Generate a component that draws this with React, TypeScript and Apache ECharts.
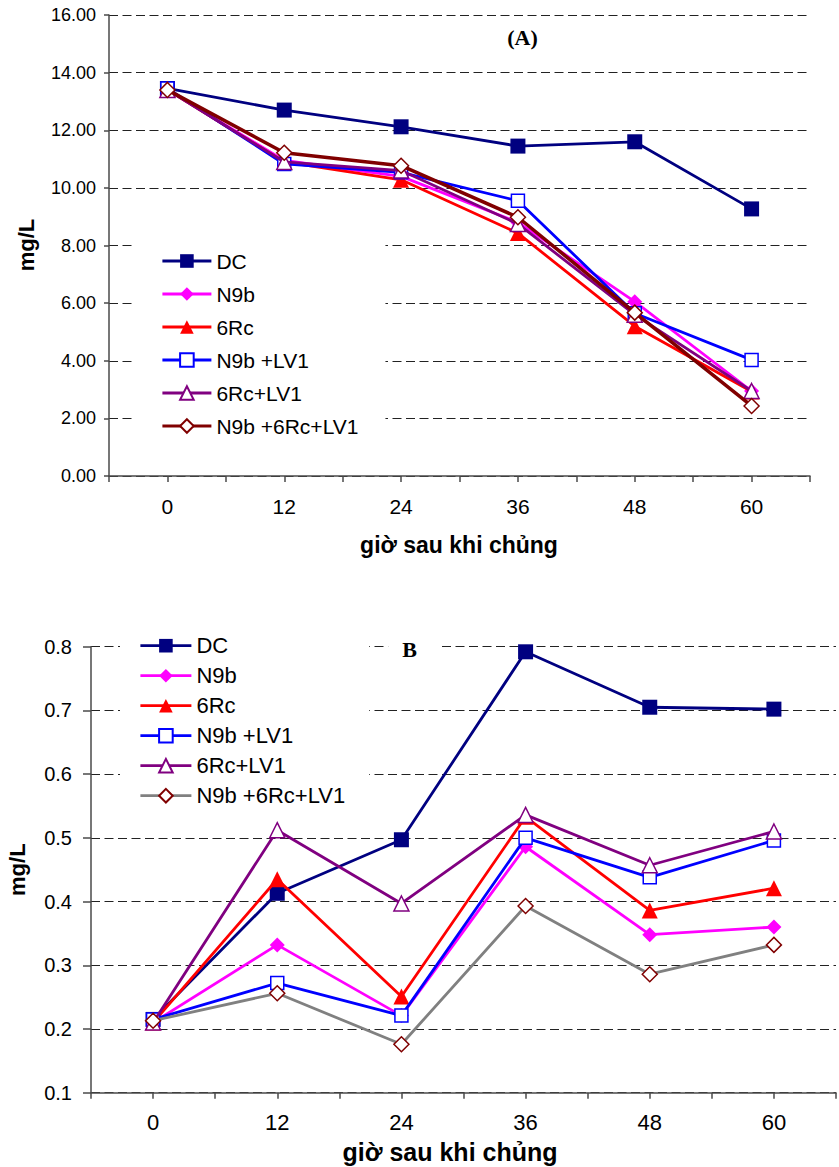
import React, { useEffect, useRef } from "react";
import * as echarts from "echarts";

// ---------- data ----------
const hours = [0, 12, 24, 36, 48, 60];
const seriesNames = ["DC", "N9b", "6Rc", "N9b +LV1", "6Rc+LV1", "N9b +6Rc+LV1"];

// Chart A (mg/L)
const aDC = [13.45, 12.7, 12.12, 11.45, 11.6, 9.27];
const aN9b = [13.4, 10.95, 10.4, 8.8, 6.05, 2.95];
const a6Rc = [13.4, 10.9, 10.28, 8.43, 5.2, 2.93];
const aN9bLV1 = [13.45, 10.83, 10.54, 9.55, 5.65, 4.03];
const a6RcLV1 = [13.4, 10.9, 10.6, 8.75, 5.6, 2.95];
const aN9b6RcLV1 = [13.4, 11.22, 10.77, 8.98, 5.67, 2.43];

// Chart B (mg/L)
const bDC = [0.215, 0.413, 0.497, 0.792, 0.705, 0.702];
const bN9b = [0.21, 0.332, 0.221, 0.486, 0.348, 0.36];
const b6Rc = [0.21, 0.435, 0.251, 0.533, 0.386, 0.421];
const bN9bLV1 = [0.215, 0.272, 0.221, 0.5, 0.438, 0.496];
const b6RcLV1 = [0.21, 0.512, 0.397, 0.536, 0.457, 0.51];
const bN9b6RcLV1 = [0.213, 0.256, 0.176, 0.393, 0.286, 0.332];

const xTitle = "giờ sau khi chủng";
const yTitle = "mg/L";

// ---------- styles ----------
type Sty = { line: string; symbol: string; size: number; fill: string; border: string; width: number; bw: number };
const stylesA: Sty[] = [
  { line: "#000080", symbol: "rect", size: 15, fill: "#000080", border: "#000080", width: 2.8, bw: 0 },
  { line: "#FF00FF", symbol: "diamond", size: 15, fill: "#FF00FF", border: "#FF00FF", width: 2.8, bw: 0 },
  { line: "#FF0000", symbol: "triangle", size: 16, fill: "#FF0000", border: "#FF0000", width: 2.8, bw: 0 },
  { line: "#0000FF", symbol: "rect", size: 13, fill: "#FFFFFF", border: "#0000FF", width: 2.8, bw: 1.5 },
  { line: "#800080", symbol: "triangle", size: 15, fill: "#FFFFFF", border: "#800080", width: 2.8, bw: 1.5 },
  { line: "#800000", symbol: "diamond", size: 15, fill: "#FFFFFF", border: "#800000", width: 3.5, bw: 1.5 },
];
const stylesB: Sty[] = stylesA.map((s, i) =>
  i === 5 ? { ...s, line: "#808080", width: 2.8 } : s
);

const SANS = '"Liberation Sans", Arial, sans-serif';
const SERIF = '"Liberation Serif", "Times New Roman", serif';

type Cfg = {
  values: number[][];
  styles: Sty[];
  grid: { left: number; top: number; right: number; bottom: number };
  yMin: number;
  yMax: number;
  yInterval: number;
  yDigits: number;
  yLabelSize: number;
  yLabelMargin: number;
  yTickLen: number;
  xLabelSize: number;
  xLabelMargin: number;
  legend: { left: number; top: number; itemWidth: number; itemHeight: number; itemGap: number; fontSize: number; padding: number[] };
  title: { text: string; x: number; y: number; size: number; padding: number[] };
  yName: { x: number; y: number; size: number };
  xName: { x: number; y: number; size: number };
};

function buildOption(c: Cfg) {
  const axisColor = "#4a4a4a";
  return {
    animation: false,
    backgroundColor: "#ffffff",
    grid: { ...c.grid, containLabel: false },
    xAxis: {
      type: "value",
      min: -6,
      max: 66,
      interval: 6,
      axisLine: { show: true, onZero: false, lineStyle: { color: axisColor, width: 1.5 } },
      axisTick: { show: true, length: 6, lineStyle: { color: axisColor, width: 1.5 } },
      axisLabel: {
        formatter: (v: number) => (hours.indexOf(v) >= 0 ? String(v) : ""),
        margin: c.xLabelMargin,
        fontSize: c.xLabelSize,
        fontFamily: SANS,
        color: "#000",
      },
      splitLine: { show: false },
    },
    yAxis: {
      type: "value",
      min: c.yMin,
      max: c.yMax,
      interval: c.yInterval,
      axisLine: { show: true, onZero: false, lineStyle: { color: axisColor, width: 1.5 } },
      axisTick: { show: true, length: c.yTickLen, lineStyle: { color: axisColor, width: 1.5 } },
      axisLabel: {
        formatter: (v: number) => v.toFixed(c.yDigits),
        margin: c.yLabelMargin,
        fontSize: c.yLabelSize,
        fontFamily: SANS,
        color: "#000",
      },
      splitLine: { show: true, lineStyle: { type: [9, 4.5], color: "#222", width: 1 } },
    },
    legend: {
      orient: "vertical",
      left: c.legend.left,
      top: c.legend.top,
      itemWidth: c.legend.itemWidth,
      itemHeight: c.legend.itemHeight,
      itemGap: c.legend.itemGap,
      padding: c.legend.padding,
      backgroundColor: "#ffffff",
      selectedMode: false,
      lineStyle: { width: 2.8 },
      textStyle: { fontFamily: SANS, fontSize: c.legend.fontSize, lineHeight: c.legend.fontSize, color: "#000" },
      data: seriesNames,
      z: 20,
    },
    graphic: [
      {
        type: "text",
        x: c.title.x,
        y: c.title.y,
        z: 30,
        style: {
          text: c.title.text,
          font: `bold ${c.title.size}px ${SERIF}`,
          fill: "#000",
          align: "center",
          verticalAlign: "middle",
          backgroundColor: "#ffffff",
          padding: c.title.padding,
        },
      },
      {
        type: "text",
        x: c.yName.x,
        y: c.yName.y,
        rotation: Math.PI / 2,
        z: 30,
        style: {
          text: yTitle,
          font: `bold ${c.yName.size}px ${SANS}`,
          fill: "#000",
          align: "center",
          verticalAlign: "middle",
        },
      },
      {
        type: "text",
        x: c.xName.x,
        y: c.xName.y,
        z: 30,
        style: {
          text: xTitle,
          font: `bold ${c.xName.size}px ${SANS}`,
          fill: "#000",
          align: "center",
          verticalAlign: "middle",
        },
      },
    ],
    series: seriesNames.map((name, i) => {
      const s = c.styles[i];
      return {
        type: "line",
        name,
        data: hours.map((h, j) => [h, c.values[i][j]]),
        symbol: s.symbol,
        symbolSize: s.size,
        showAllSymbol: true,
        lineStyle: { color: s.line, width: s.width },
        itemStyle: { color: s.fill, borderColor: s.border, borderWidth: s.bw },
        emphasis: { disabled: true },
        z: 2 + i * 0.1,
      };
    }),
  };
}

const cfgA: Cfg = {
  values: [aDC, aN9b, a6Rc, aN9bLV1, a6RcLV1, aN9b6RcLV1],
  styles: stylesA,
  grid: { left: 109, top: 15, right: 29, bottom: 104 },
  yMin: 0,
  yMax: 16,
  yInterval: 2,
  yDigits: 2,
  yLabelSize: 18,
  yLabelMargin: 13,
  yTickLen: 5,
  xLabelSize: 21,
  xLabelMargin: 20,
  legend: { left: 133, top: 240.5, itemWidth: 49, itemHeight: 17, itemGap: 12, fontSize: 21, padding: [10, 27, 10, 28] },
  title: { text: "(A)", x: 521, y: 37, size: 22, padding: [3, 17, 3, 20] },
  yName: { x: 26, y: 245, size: 22 },
  xName: { x: 459, y: 545, size: 23 },
};

const cfgB: Cfg = {
  values: [bDC, bN9b, b6Rc, bN9bLV1, b6RcLV1, bN9b6RcLV1],
  styles: stylesB,
  grid: { left: 91, top: 66.7, right: -7, bottom: 74.3 },
  yMin: 0.1,
  yMax: 0.8,
  yInterval: 0.1,
  yDigits: 1,
  yLabelSize: 20,
  yLabelMargin: 19,
  yTickLen: 8,
  xLabelSize: 22,
  xLabelMargin: 19,
  legend: { left: 120, top: 46.7, itemWidth: 51, itemHeight: 17, itemGap: 8, fontSize: 22, padding: [8, 24, 8, 19] },
  title: { text: "B", x: 413.5, y: 69, size: 22, padding: [2, 22, 2, 14] },
  yName: { x: 17, y: 289.7, size: 22 },
  xName: { x: 450, y: 572, size: 25 },
};

function Chart({ cfg, height }: { cfg: Cfg; height: number }) {
  const ref = useRef<HTMLDivElement>(null);
  useEffect(() => {
    if (!ref.current) return;
    const chart = echarts.init(ref.current, undefined, { renderer: "svg" });
    chart.setOption(buildOption(cfg) as any);
    return () => chart.dispose();
  }, [cfg]);
  return <div ref={ref} style={{ width: 839, height, display: "block" }} />;
}

export default function App() {
  useEffect(() => {
    document.body.style.margin = "0";
  }, []);
  return (
    <div style={{ width: 839, height: 1167, background: "#fff", overflow: "hidden" }}>
      <Chart cfg={cfgA} height={580} />
      <Chart cfg={cfgB} height={587} />
    </div>
  );
}
